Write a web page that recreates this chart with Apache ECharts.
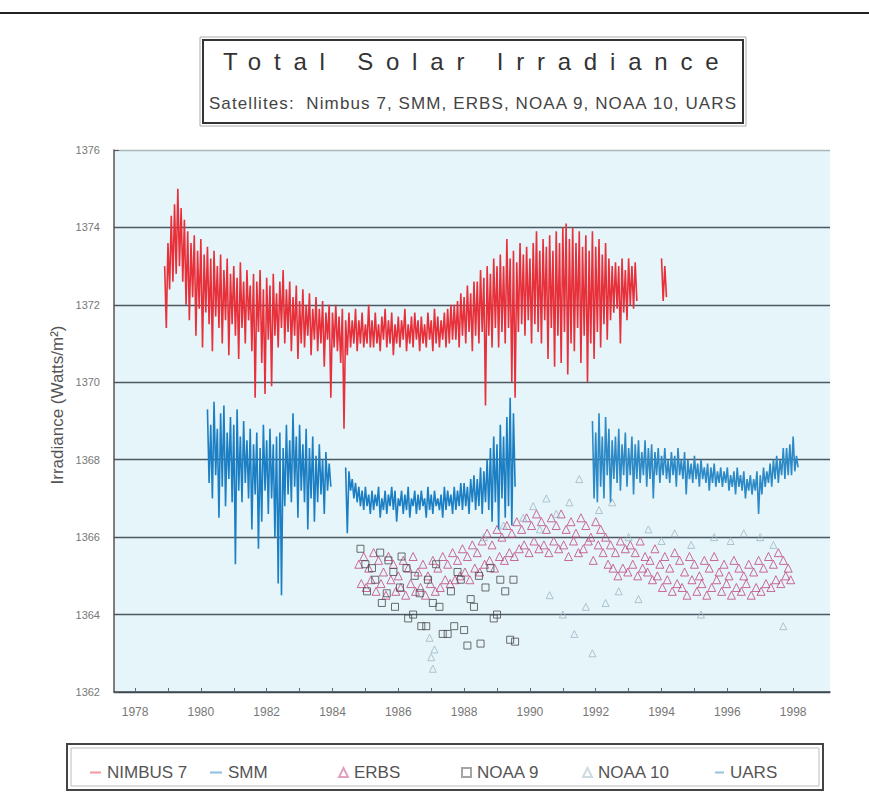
<!DOCTYPE html>
<html><head><meta charset="utf-8">
<script src="https://cdn.jsdelivr.net/npm/echarts@6/dist/echarts.min.js"></script>
<style>html,body{margin:0;padding:0;background:#fff}#c{width:869px;height:808px}</style>
</head><body><div id="c"></div>
<script>
// ---------- data ----------
const titleText = 'Total Solar Irradiance';
const subtitleText = 'Satellites:  Nimbus 7, SMM, ERBS, NOAA 9, NOAA 10, UARS';
const yAxisTitle = 'Irradiance (Watts/m\u00B2)';
const seriesNames = ['NIMBUS 7', 'SMM', 'ERBS', 'NOAA 9', 'NOAA 10', 'UARS'];
const xTickLabels = [1978, 1980, 1982, 1984, 1986, 1988, 1990, 1992, 1994, 1996, 1998];
const xMinorTicks = [1978, 1979, 1980, 1981, 1982, 1983, 1984, 1985, 1986, 1987, 1988, 1989, 1990, 1991, 1992, 1993, 1994, 1995, 1996, 1997, 1998];
const yMin = 1362, yMax = 1376, yStep = 2;

// NIMBUS 7: daily band sampled every 0.1 yr (upper / lower envelope)
const nimbusStart = 1978.9, nimbusStep = 0.1;
const nimbusHi = [
 1373.0,
 1373.6,1374.3,1374.6,1375.0,1374.5,1374.2,1373.9,1373.6,1373.8,1373.4,
 1373.7,1373.3,1373.5,1373.2,1373.4,1373.0,1373.3,1372.9,1373.2,1372.8,
 1373.0,1372.7,1373.1,1372.6,1372.9,1372.5,1372.8,1372.6,1372.9,1372.4,
 1372.7,1372.5,1372.8,1372.3,1372.6,1372.9,1372.4,1372.6,1372.2,1372.5,
 1372.1,1372.4,1372.0,1372.3,1371.9,1372.2,1371.9,1372.1,1371.8,1372.0,
 1371.8,1372.0,1371.7,1371.9,1371.6,1371.8,1371.6,1371.9,1371.6,1371.8,
 1371.5,1372.0,1371.6,1371.8,1371.5,1371.7,1371.9,1371.6,1371.8,1371.5,
 1371.7,1371.6,1371.9,1371.5,1371.7,1371.8,1371.6,1371.7,1371.5,1371.8,
 1371.6,1371.9,1371.7,1371.6,1371.8,1371.9,1372.0,1372.0,1372.1,1372.3,
 1372.2,1372.5,1372.3,1372.6,1372.6,1372.9,1372.7,1373.0,1372.8,1373.2,
 1373.0,1373.3,1373.0,1373.7,1373.2,1373.4,1373.1,1373.6,1373.3,1373.5,
 1373.2,1373.6,1373.9,1373.4,1373.7,1373.5,1373.8,1373.4,1373.9,1373.6,
 1374.0,1374.1,1373.7,1374.0,1373.6,1373.9,1373.5,1373.8,1373.4,1373.9,
 1373.5,1373.7,1373.3,1373.6,1373.2,1373.0,1373.1,1373.0,1373.2,1372.9,
 1373.2,1373.0,1373.1,
 null,null,null,null,null,null,null,
 1373.2,1373.0
];
const nimbusLo = [
 1371.4,
 1372.4,1372.6,1372.8,1373.0,1372.6,1372.0,1371.6,1372.2,1371.2,1371.9,
 1370.9,1371.8,1371.5,1370.8,1371.7,1371.4,1371.0,1371.6,1370.7,1371.5,
 1371.2,1370.6,1371.4,1371.0,1371.6,1370.8,1369.6,1371.3,1370.5,1369.7,
 1371.1,1369.9,1371.2,1370.9,1371.4,1371.0,1371.3,1370.8,1371.2,1370.6,
 1371.0,1370.9,1371.2,1370.7,1371.1,1370.8,1371.0,1370.4,1371.1,1369.6,
 1370.9,1370.8,1370.5,1368.8,1370.7,1370.9,1371.0,1370.8,1371.0,1370.9,
 1371.0,1370.9,1370.9,1371.0,1370.8,1371.1,1370.9,1371.0,1370.7,1371.0,
 1370.9,1371.1,1370.8,1371.0,1370.9,1371.1,1370.8,1371.0,1370.9,1371.1,
 1370.8,1371.0,1370.9,1371.1,1370.9,1371.0,1371.1,1371.1,1370.9,1371.2,
 1371.0,1371.3,1370.8,1371.2,1371.0,1371.3,1369.4,1371.2,1370.9,1371.4,
 1370.9,1371.3,1371.0,1371.4,1370.0,1369.6,1371.3,1371.5,1371.2,1371.6,
 1371.0,1371.5,1371.3,1371.0,1371.6,1370.6,1371.4,1370.4,1371.2,1370.5,
 1371.3,1370.2,1371.0,1370.8,1371.4,1370.5,1371.2,1370.0,1371.0,1370.6,
 1371.3,1370.9,1371.5,1371.1,1371.6,1371.8,1371.9,1371.0,1371.8,1371.6,
 1372.0,1371.9,1372.1,
 null,null,null,null,null,null,null,
 1372.1,1372.2
];

// SMM: sampled every 0.1 yr from 1980.2
const smmStart = 1980.2, smmStep = 0.1;
const smmHi = [
 1369.3,1368.9,1369.5,1368.8,1369.2,1369.4,1368.7,1369.1,
 1368.9,1369.3,1368.6,1369.0,1368.5,1368.8,1368.4,1368.7,1368.3,1368.9,
 1368.5,1368.8,1368.4,1368.6,1368.7,1368.3,1368.9,1368.5,1369.2,1368.6,
 1368.9,1368.4,1368.8,1368.3,1368.6,1368.1,1368.4,1368.0,1368.2,1367.9,
 null,null,null,null,
 1367.8,1367.7,1367.5,1367.4,1367.3,1367.2,
 1367.3,1367.1,
 1367.2,1367.1,1367.3,1367.0,1367.2,1367.1,1367.3,1367.2,1367.0,1367.2,
 1367.1,1367.3,1367.0,1367.2,1367.1,1367.2,1367.0,1367.3,1367.1,1367.2,
 1367.0,1367.1,1367.3,1367.2,1367.1,1367.3,1367.2,1367.4,
 1367.4,1367.3,1367.5,1367.6,1367.5,1367.8,1367.7,1368.0,1368.3,1368.6,
 1368.4,1368.9,1368.6,1369.1,1369.6,1369.2
];
const smmLo = [
 1367.4,1367.0,1367.6,1366.5,1367.3,1366.8,1367.5,1366.9,
 1365.3,1367.2,1366.9,1367.4,1367.0,1366.2,1367.1,1365.7,1366.4,1367.2,
 1366.6,1367.0,1366.0,1364.8,1364.5,1366.8,1367.1,1366.9,1367.3,1366.5,
 1367.2,1366.9,1366.2,1367.0,1366.4,1366.9,1367.1,1366.6,1367.2,1367.3,
 null,null,null,null,
 1366.1,1367.2,1367.0,1366.9,1366.8,1366.7,
 1366.8,1366.6,
 1366.7,1366.8,1366.5,1366.7,1366.6,1366.8,1366.7,1366.4,1366.8,1366.6,
 1366.7,1366.5,1366.8,1366.6,1366.7,1366.8,1366.5,1366.7,1366.6,1366.8,
 1366.7,1366.5,1366.7,1366.8,1366.6,1366.7,1366.8,1366.7,
 1366.8,1366.6,1366.9,1366.7,1366.8,1366.6,1366.9,1366.7,1366.4,1366.9,
 1366.2,1367.0,1366.5,1366.8,1366.3,1367.3
];

// UARS: sampled every 0.1 yr from 1991.9
const uarsStart = 1991.9, uarsStep = 0.1;
const uarsHi = [
 1369.0,
 1368.7,1369.2,1368.6,1369.1,1368.8,1368.5,1368.6,1368.8,1368.4,1368.7,
 1368.3,1368.6,1368.4,1368.5,1368.2,1368.5,1368.3,1368.4,1368.2,1368.3,
 1368.1,1368.3,1368.0,1368.2,1368.1,1368.3,1368.0,1368.2,1368.0,1367.9,
 1368.1,1367.9,1368.0,1367.8,1367.9,1367.8,1367.9,1367.7,1367.8,1367.7,
 1367.8,1367.6,1367.7,1367.8,1367.6,1367.7,1367.5,1367.6,1367.5,1367.7,
 1367.6,1367.8,1367.7,1367.9,1368.0,1368.1,1368.0,1368.3,1368.3,1368.4,
 1368.6,1368.1
];
const uarsLo = [
 1367.0,
 1366.9,1367.3,1367.0,1367.6,1366.9,1367.5,1367.4,1367.2,1367.6,1367.3,
 1367.6,1367.1,1367.5,1367.4,1367.6,1367.3,1367.5,1367.0,1367.6,1367.4,
 1367.6,1367.5,1367.4,1367.6,1367.3,1367.6,1367.5,1367.1,1367.5,1367.4,
 1367.5,1367.3,1367.5,1367.4,1367.2,1367.4,1367.3,1367.4,1367.3,1367.4,
 1367.2,1367.3,1367.1,1367.3,1367.2,1367.0,1367.2,1367.1,1367.2,1366.6,
 1367.1,1367.3,1367.4,1367.3,1367.5,1367.4,1367.6,1367.5,1367.6,1367.6,
 1367.7,1367.8
];

// ERBS: two readings per 0.15-yr step from 1984.8
const erbsStart = 1984.8, erbsStep = 0.15;
const erbsUpper = [
 1365.3,1365.5,1365.2,1365.6,1365.4,1365.1,1365.5,1365.3,1365.0,1365.4,
 1365.2,1365.5,1365.1,1365.3,1365.0,1365.4,1365.2,1365.5,1365.3,1365.6,
 1365.4,1365.7,1365.5,1365.8,1365.6,1365.9,1366.1,1365.8,1366.2,1366.0,
 1366.3,1366.1,1366.4,1366.2,1366.5,1366.3,1366.6,1366.4,1366.2,1366.5,
 1366.3,1366.6,1366.2,1366.4,1366.1,1366.5,1366.3,1366.0,1366.4,1366.2,
 1366.0,1365.8,1365.6,1365.9,1365.7,1365.8,1365.6,1365.9,1365.5,1365.4,
 1365.7,1365.3,1365.5,1365.2,1365.6,1365.4,1365.1,1365.5,1365.3,1365.0,
 1365.4,1365.2,1365.5,1365.1,1365.3,1365.0,1365.4,1365.2,1365.0,1365.3,
 1365.1,1365.4,1365.2,1365.5,1365.3,1365.6,1365.4,1365.2
];
const erbsLower = [
 1364.8,1364.7,1364.9,1364.6,1364.8,1364.5,1364.9,1364.6,1364.7,1364.5,
 1364.8,1364.6,1364.7,1364.5,1364.8,1364.6,1364.7,1364.9,1364.8,1364.9,
 1365.0,1365.1,1364.9,1365.2,1365.1,1365.3,1365.4,1365.2,1365.5,1365.4,
 1365.6,1365.5,1365.7,1365.8,1365.6,1365.9,1365.7,1365.8,1365.6,1365.9,
 1365.7,1365.8,1365.5,1365.9,1365.6,1365.7,1365.9,1365.4,1365.8,1365.6,
 1365.3,1365.2,1365.0,1365.2,1365.1,1365.3,1365.0,1365.2,1365.1,1364.9,
 1365.0,1364.7,1364.9,1364.6,1364.8,1364.7,1364.5,1364.9,1364.6,1364.8,
 1364.5,1364.7,1364.9,1364.6,1364.8,1364.5,1364.7,1364.6,1364.8,1364.5,
 1364.7,1364.6,1364.8,1364.7,1364.9,1364.8,1365.0,1364.9
];

// NOAA 9
const noaa9Years = [1984.85,1985.0,1985.05,1985.2,1985.3,1985.45,1985.5,1985.65,1985.7,1985.85,
 1985.9,1986.05,1986.1,1986.25,1986.3,1986.45,1986.5,1986.65,1986.7,1986.85,
 1986.9,1987.05,1987.15,1987.25,1987.35,1987.5,1987.6,1987.7,1987.8,1987.9,
 1988.0,1988.1,1988.2,1988.3,1988.45,1988.5,1988.65,1988.8,1988.9,1989.0,
 1989.1,1989.25,1989.4,1989.5,1989.55];
const noaa9Vals = [1365.7,1365.3,1364.6,1365.2,1364.9,1365.6,1364.3,1364.55,1365.4,1365.1,
 1364.2,1364.7,1365.5,1365.2,1363.9,1364.0,1365.0,1364.55,1363.7,1363.7,
 1364.9,1364.3,1365.3,1364.2,1363.5,1363.5,1364.6,1363.7,1365.1,1364.9,
 1363.6,1363.2,1364.4,1364.2,1365.0,1363.25,1364.7,1365.2,1363.9,1364.0,
 1364.9,1364.6,1363.35,1364.9,1363.3];

// NOAA 10
const noaa10Years = [1986.95,1987.0,1987.05,1987.1,1988.6,1989.2,1989.8,1990.1,1990.3,1990.5,
 1990.6,1990.8,1991.0,1991.2,1991.35,1991.5,1991.7,1991.9,1992.1,1992.3,
 1992.5,1992.7,1993.0,1993.3,1993.6,1994.0,1994.4,1994.9,1995.2,1995.6,
 1996.1,1996.5,1997.0,1997.4,1997.7];
const noaa10Vals = [1363.4,1362.9,1362.6,1363.1,1366.0,1366.3,1366.5,1366.8,1366.2,1367.0,
 1364.5,1366.6,1364.0,1366.9,1363.5,1367.5,1364.2,1363.0,1366.7,1364.3,
 1366.9,1364.6,1366.0,1364.4,1366.2,1365.9,1366.1,1365.8,1364.0,1366.0,
 1365.9,1366.1,1366.0,1365.8,1363.7];

// ---------- build ----------
const FONT = '"Liberation Sans", Arial, Helvetica, sans-serif';
function envelope(start, step, hi, lo) {
  const out = [];
  for (let i = 0; i < hi.length; i++) {
    const t = +(start + i * step).toFixed(3);
    if (hi[i] == null) { out.push([t, null]); continue; }
    out.push([t, hi[i]]);
    out.push([+(t + step / 2).toFixed(3), lo[i]]);
  }
  return out;
}
function pairs(start, step, a, b) {
  const out = [];
  for (let i = 0; i < a.length; i++) {
    const t = +(start + i * step).toFixed(3);
    out.push([t, a[i]]);
    out.push([+(t + step * 0.5).toFixed(3), b[i]]);
  }
  return out;
}
function zip(xs, ys) { return xs.map((x, i) => [x, ys[i]]); }

const splitColors = ['#3c4a4f','#4a5a60','#4a5a60','#4a5a60','#4a5a60','#4a5a60','#4a5a60','#aab6ba'];

const legendLayout = [
  { name: 'NIMBUS 7', left: 85, icon: 'rect', w: 11, h: 2 },
  { name: 'SMM', left: 205, icon: 'rect', w: 12, h: 2 },
  { name: 'ERBS', left: 333, icon: 'triangle', w: 9, h: 9 },
  { name: 'NOAA 9', left: 456, icon: 'rect', w: 9, h: 9 },
  { name: 'NOAA 10', left: 577, icon: 'triangle', w: 9, h: 9 },
  { name: 'UARS', left: 710, icon: 'rect', w: 9, h: 2 }
];

const chart = echarts.init(document.getElementById('c'), null, { renderer: 'svg' });
const option = {
  animation: false,
  backgroundColor: '#ffffff',
  textStyle: { fontFamily: FONT },
  grid: { left: 114, right: 39, top: 150, bottom: 116, show: true, backgroundColor: '#e5f5fa', borderWidth: 0 },
  xAxis: {
    type: 'value', min: 1977.36, max: 1999.12,
    axisLine: { show: true, lineStyle: { color: '#3c4a4f', width: 1.5 } },
    axisTick: { show: true, inside: true, length: 4, customValues: xMinorTicks, lineStyle: { color: '#667' } },
    axisLabel: { customValues: xTickLabels, fontSize: 12, color: '#777', margin: 14, fontFamily: FONT, formatter: v => String(v) },
    splitLine: { show: false }
  },
  yAxis: {
    type: 'value', min: yMin, max: yMax, interval: yStep,
    axisLine: { show: true, lineStyle: { color: '#555', width: 1.5 } },
    axisTick: { show: true, inside: true, length: 5, lineStyle: { color: '#555' } },
    axisLabel: { fontSize: 11, color: '#777', margin: 14, fontFamily: FONT, formatter: v => String(v) },
    splitLine: { show: true, lineStyle: { color: splitColors, width: 1.3 } }
  },
  legend: legendLayout.map(l => ({
    data: [{ name: l.name, icon: l.icon }],
    left: l.left, top: 759, itemWidth: l.w, itemHeight: l.h, itemGap: 0,
    selectedMode: false,
    itemStyle: { opacity: 0.5 },
    textStyle: { fontSize: 17, color: '#555', fontFamily: FONT, padding: [0, 0, 0, 1] }
  })),
  graphic: [
    { type: 'line', shape: { x1: 0, y1: 13, x2: 869, y2: 13 }, style: { stroke: '#222', lineWidth: 2 } },
    { type: 'rect', shape: { x: 200, y: 37, width: 546, height: 89 }, style: { fill: 'none', stroke: '#aaa', lineWidth: 1 } },
    { type: 'rect', shape: { x: 203, y: 40, width: 540, height: 83 }, style: { fill: 'none', stroke: '#333', lineWidth: 2 } },
    { type: 'text', id: 'ttl', x: 223, y: 61, style: { text: titleText, fontSize: 24, fontFamily: FONT, fill: '#333', align: 'left', verticalAlign: 'middle' } },
    { type: 'text', id: 'sub', x: 473, y: 103, style: { text: subtitleText, fontSize: 17, fontFamily: FONT, fill: '#444', align: 'center', verticalAlign: 'middle' } },
    { type: 'text', x: 57, y: 405, rotation: Math.PI / 2, style: { text: yAxisTitle, fontSize: 17, fontFamily: FONT, fill: '#555', align: 'center', verticalAlign: 'middle' } },
    { type: 'rect', shape: { x: 67, y: 744, width: 756, height: 46 }, style: { fill: 'none', stroke: '#444', lineWidth: 2 } },
    { type: 'rect', shape: { x: 71, y: 748, width: 748, height: 38 }, style: { fill: 'none', stroke: '#bbb', lineWidth: 1 } }
  ],
  series: [
    { name: 'ERBS', type: 'scatter', symbol: 'triangle', symbolSize: 8,
      itemStyle: { color: 'rgba(0,0,0,0)', borderColor: '#c2467f', borderWidth: 1 },
      data: pairs(erbsStart, erbsStep, erbsUpper, erbsLower), z: 2 },
    { name: 'NOAA 9', type: 'scatter', symbol: 'rect', symbolSize: 7,
      itemStyle: { color: 'rgba(0,0,0,0)', borderColor: '#4a4a4a', borderWidth: 1 },
      data: zip(noaa9Years, noaa9Vals), z: 2 },
    { name: 'NOAA 10', type: 'scatter', symbol: 'triangle', symbolSize: 7,
      itemStyle: { color: 'rgba(0,0,0,0)', borderColor: '#9fb6c4', borderWidth: 1 },
      data: zip(noaa10Years, noaa10Vals), z: 2 },
    { name: 'SMM', type: 'line', showSymbol: false, symbol: 'none', connectNulls: false,
      lineStyle: { color: '#1d7fc3', width: 1.6 }, itemStyle: { color: '#1d7fc3' },
      data: envelope(smmStart, smmStep, smmHi, smmLo), z: 3 },
    { name: 'UARS', type: 'line', showSymbol: false, symbol: 'none', connectNulls: false,
      lineStyle: { color: '#2e8ac6', width: 1.6 }, itemStyle: { color: '#2e8ac6' },
      data: envelope(uarsStart, uarsStep, uarsHi, uarsLo), z: 3 },
    { name: 'NIMBUS 7', type: 'line', showSymbol: false, symbol: 'none', connectNulls: false,
      lineStyle: { color: '#e8303a', width: 1.6 }, itemStyle: { color: '#e8303a' },
      data: envelope(nimbusStart, nimbusStep, nimbusHi, nimbusLo), z: 4 }
  ]
};
chart.setOption(option);

function applySpacing() {
  document.querySelectorAll('#c svg text').forEach(t => {
    if (t.textContent === titleText) t.setAttribute('letter-spacing', '12.8');
    if (t.textContent === subtitleText) t.setAttribute('letter-spacing', '1.1');
  });
}
chart.getZr().refreshImmediately();
applySpacing();
chart.on('finished', applySpacing);
setTimeout(applySpacing, 50);
</script>
</body></html>
